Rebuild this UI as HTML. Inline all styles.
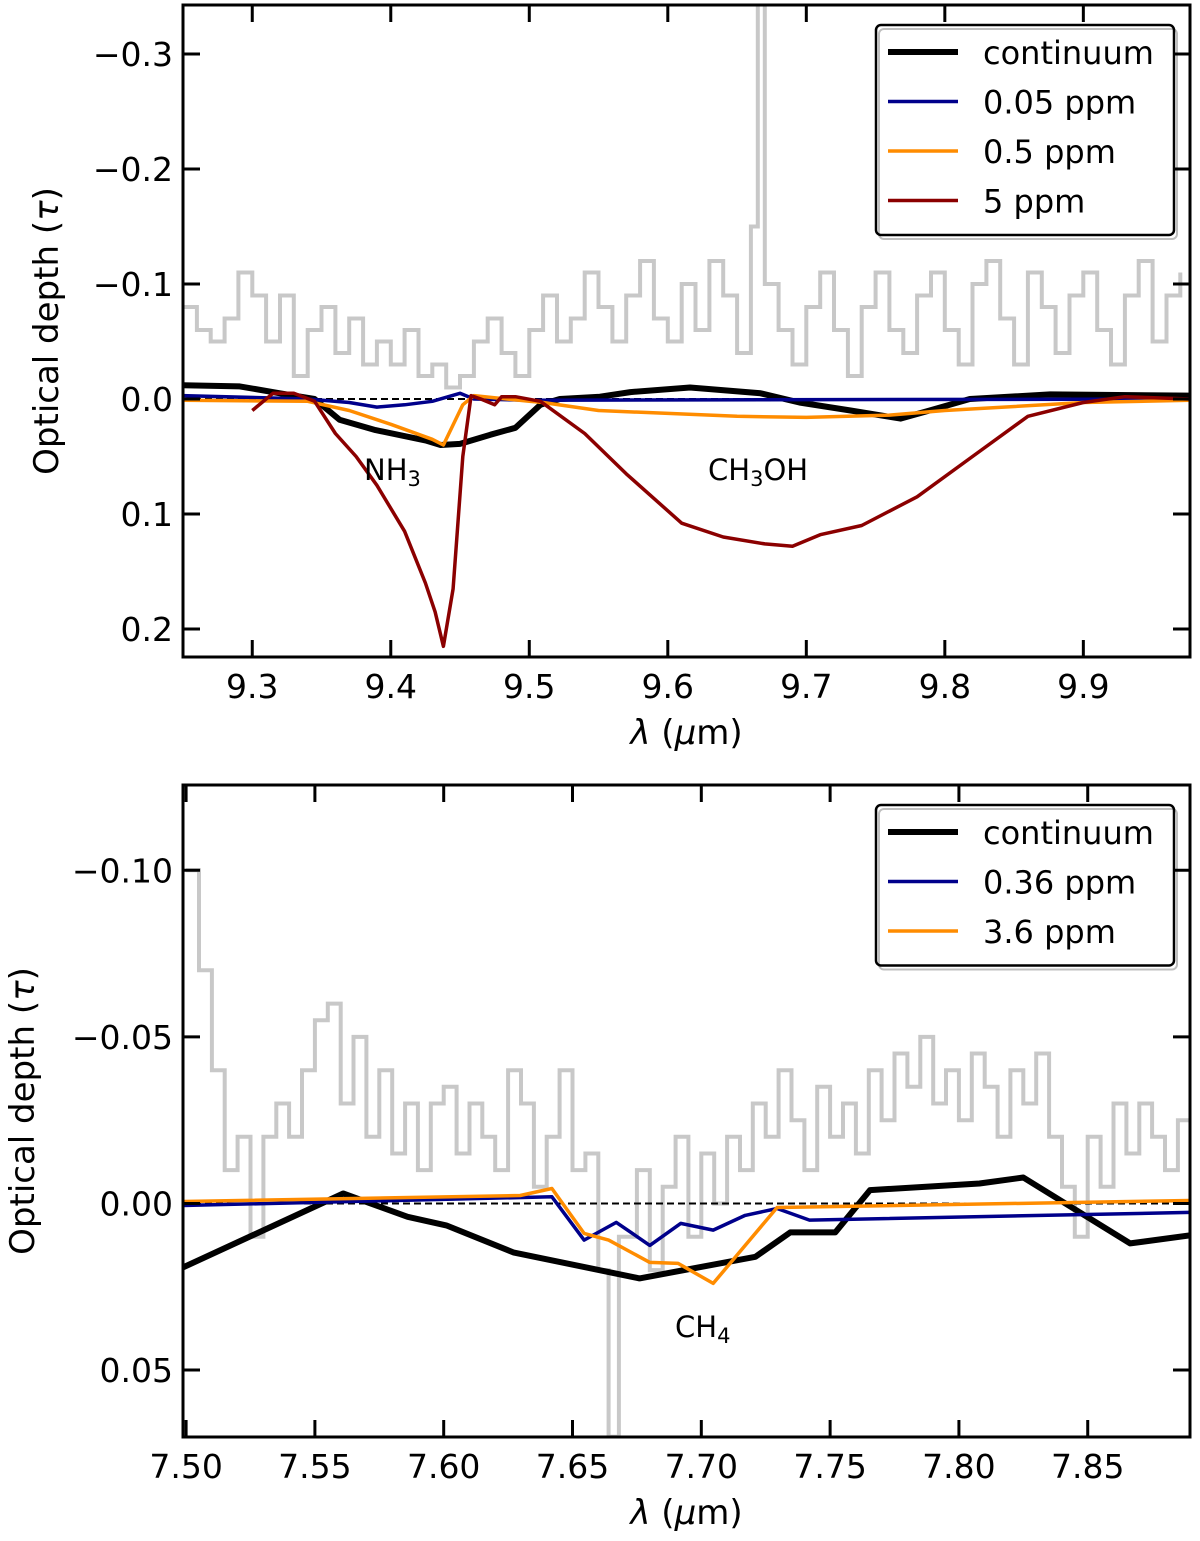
<!DOCTYPE html>
<html><head><meta charset="utf-8"><style>
body{margin:0;background:#fff}
svg text{font-family:"DejaVu Sans","Liberation Sans",sans-serif;fill:#000}
</style></head><body>
<svg id="fig" width="1200" height="1536" viewBox="0 0 1200 1536" xmlns="http://www.w3.org/2000/svg"></svg>
<script>
// ---- Top panel data ----
const topGrayX=[9.25,9.26,9.27,9.28,9.29,9.30,9.31,9.32,9.33,9.34,9.35,9.36,9.37,9.38,9.39,9.40,9.41,9.42,9.43,9.44,9.45,9.46,9.47,9.48,9.49,9.50,9.51,9.52,9.53,9.54,9.55,9.56,9.57,9.58,9.59,9.60,9.61,9.62,9.63,9.64,9.65,9.66,9.665,9.67,9.68,9.69,9.70,9.71,9.72,9.73,9.74,9.75,9.76,9.77,9.78,9.79,9.80,9.81,9.82,9.83,9.84,9.85,9.86,9.87,9.88,9.89,9.90,9.91,9.92,9.93,9.94,9.95,9.96,9.97];
const topGrayY=[-0.08,-0.06,-0.05,-0.07,-0.11,-0.09,-0.05,-0.09,-0.02,-0.06,-0.08,-0.04,-0.07,-0.03,-0.05,-0.03,-0.06,-0.02,-0.03,-0.01,-0.02,-0.05,-0.07,-0.04,-0.02,-0.06,-0.09,-0.05,-0.07,-0.11,-0.08,-0.05,-0.09,-0.12,-0.07,-0.05,-0.10,-0.06,-0.12,-0.09,-0.04,-0.15,-0.40,-0.10,-0.06,-0.03,-0.08,-0.11,-0.06,-0.02,-0.08,-0.11,-0.06,-0.04,-0.09,-0.11,-0.06,-0.03,-0.10,-0.12,-0.07,-0.03,-0.11,-0.08,-0.04,-0.09,-0.11,-0.06,-0.03,-0.09,-0.12,-0.05,-0.09,-0.11];
const topContX=[9.25,9.291,9.32,9.345,9.363,9.389,9.425,9.436,9.45,9.472,9.49,9.508,9.522,9.551,9.573,9.616,9.667,9.695,9.732,9.768,9.789,9.818,9.876,9.977];
const topContY=[-0.012,-0.011,-0.005,0,0.018,0.027,0.036,0.04,0.039,0.031,0.025,0.005,0,-0.002,-0.006,-0.01,-0.005,0.003,0.01,0.017,0.01,0,-0.004,-0.003];
const topBlueX=[9.25,9.34,9.37,9.39,9.41,9.43,9.45,9.46,9.5,9.977];
const topBlueY=[-0.003,0,0.003,0.007,0.005,0.002,-0.005,0,0.001,0];
const topOrX=[9.25,9.34,9.37,9.40,9.43,9.438,9.452,9.46,9.5,9.51,9.55,9.65,9.7,9.76,9.8,9.9,9.977];
const topOrY=[0.001,0.002,0.01,0.022,0.035,0.04,0.005,-0.003,0.002,0.003,0.01,0.015,0.016,0.014,0.01,0.003,0.001];
const topRedX=[9.30,9.315,9.33,9.345,9.36,9.375,9.39,9.41,9.425,9.432,9.438,9.445,9.452,9.458,9.465,9.475,9.48,9.49,9.508,9.54,9.57,9.61,9.64,9.67,9.69,9.71,9.74,9.78,9.82,9.86,9.9,9.93,9.977];
const topRedY=[0.01,-0.005,-0.005,0.002,0.03,0.05,0.075,0.115,0.16,0.185,0.215,0.165,0.05,-0.003,0,0.005,-0.002,-0.002,0.002,0.03,0.065,0.108,0.12,0.126,0.128,0.118,0.11,0.085,0.05,0.015,0.003,-0.002,0];
const topXTicks=[9.3,9.4,9.5,9.6,9.7,9.8,9.9];
const topXTickLabels=["9.3","9.4","9.5","9.6","9.7","9.8","9.9"];
const topYTicks=[-0.3,-0.2,-0.1,0,0.1,0.2];
const topYTickLabels=["\u22120.3","\u22120.2","\u22120.1","0.0","0.1","0.2"];
// ---- Bottom panel data ----
const botGrayX=[7.50,7.505,7.51,7.515,7.52,7.525,7.53,7.535,7.54,7.545,7.55,7.555,7.56,7.565,7.57,7.575,7.58,7.585,7.59,7.595,7.60,7.605,7.61,7.615,7.62,7.625,7.63,7.635,7.64,7.645,7.65,7.655,7.66,7.664,7.668,7.675,7.68,7.685,7.69,7.695,7.70,7.705,7.71,7.715,7.72,7.725,7.73,7.735,7.74,7.745,7.75,7.755,7.76,7.765,7.77,7.775,7.78,7.785,7.79,7.795,7.80,7.805,7.81,7.815,7.82,7.825,7.83,7.835,7.84,7.845,7.85,7.855,7.86,7.865,7.87,7.875,7.88,7.885,7.89];
const botGrayY=[-0.1,-0.07,-0.04,-0.01,-0.02,0.01,-0.02,-0.03,-0.02,-0.04,-0.055,-0.06,-0.03,-0.05,-0.02,-0.04,-0.015,-0.03,-0.01,-0.03,-0.035,-0.015,-0.03,-0.02,-0.01,-0.04,-0.03,-0.005,-0.02,-0.04,-0.01,-0.015,0.02,0.07,0.01,-0.01,0.02,-0.005,-0.02,0.01,-0.015,0,-0.02,-0.01,-0.03,-0.02,-0.04,-0.025,-0.01,-0.035,-0.02,-0.03,-0.015,-0.04,-0.025,-0.045,-0.035,-0.05,-0.03,-0.04,-0.025,-0.045,-0.035,-0.02,-0.04,-0.03,-0.045,-0.02,-0.005,0.01,-0.02,-0.005,-0.03,-0.015,-0.03,-0.02,-0.01,-0.025,-0.02];
const botContX=[7.4988,7.561,7.586,7.601,7.627,7.676,7.721,7.7345,7.752,7.7655,7.808,7.825,7.8665,7.8897];
const botContY=[0.0192,-0.003,0.004,0.0066,0.0147,0.0225,0.016,0.0087,0.0087,-0.004,-0.006,-0.0078,0.012,0.0096];
const botBlueX=[7.4988,7.642,7.6545,7.667,7.68,7.692,7.7046,7.717,7.7294,7.742,7.8897];
const botBlueY=[0.0006,-0.002,0.011,0.0057,0.0126,0.006,0.008,0.0036,0.0015,0.005,0.0027];
const botOrX=[7.4988,7.6297,7.642,7.6545,7.664,7.68,7.691,7.7046,7.7294,7.8897];
const botOrY=[-0.0006,-0.0024,-0.0045,0.009,0.011,0.0177,0.018,0.024,0.0012,-0.0009];
const botXTicks=[7.50,7.55,7.60,7.65,7.70,7.75,7.80,7.85];
const botXTickLabels=["7.50","7.55","7.60","7.65","7.70","7.75","7.80","7.85"];
const botYTicks=[-0.10,-0.05,0,0.05];
const botYTickLabels=["\u22120.10","\u22120.05","0.00","0.05"];

const NS="http://www.w3.org/2000/svg";
const svg=document.getElementById('fig');
function mk(tag,attrs,parent){const e=document.createElementNS(NS,tag);for(const k in attrs)e.setAttribute(k,attrs[k]);(parent||svg).appendChild(e);return e;}

function panel(cfg){
  const g=mk('g',{});
  
  
  const L=cfg.L,R=cfg.R,T=cfg.T,B=cfg.B;
  const sx=v=>L+(v-cfg.x0)/(cfg.x1-cfg.x0)*(R-L);
  const sy=v=>T+(v-cfg.y0)/(cfg.y1-cfg.y0)*(B-T);
  const clipId='clip'+cfg.name;
  const cp=mk('clipPath',{id:clipId},g);mk('rect',{x:L,y:T,width:R-L,height:B-T},cp);
  const plot=mk('g',{'clip-path':'url(#'+clipId+')'},g);
  let d='';
  cfg.gx.forEach((x,i)=>{const X=sx(x),Y=sy(cfg.gy[i]);d+=(i?'H'+X.toFixed(1)+'V'+Y.toFixed(1):'M'+X.toFixed(1)+' '+Y.toFixed(1));});
  const gp=mk('path',{d:d,fill:'none',stroke:'#c8c8c8','stroke-width':4},plot);
  
  
  const zl=mk('line',{x1:L,x2:R,y1:sy(0),y2:sy(0),stroke:'#000','stroke-width':2,'stroke-dasharray':'7,4'},plot);
  
  
  cfg.series.forEach(s=>{
    const pts=s.x.map((x,i)=>sx(x).toFixed(1)+','+sy(s.y[i]).toFixed(1)).join(' ');
    const pl=mk('polyline',{points:pts,fill:'none',stroke:s.c,'stroke-width':s.w,'stroke-linejoin':'round'},plot);
    
    
  });
  const fr=mk('rect',{x:L,y:T,width:R-L,height:B-T,fill:'none',stroke:'#000','stroke-width':3},g);
  
  
  cfg.xt.forEach((v,i)=>{
    const X=sx(v);
    mk('line',{x1:X,x2:X,y1:B,y2:B-17,stroke:'#000','stroke-width':3},g);
    mk('line',{x1:X,x2:X,y1:T,y2:T+17,stroke:'#000','stroke-width':3},g);
    const t=mk('text',{x:X,y:B+41,'font-size':33,'text-anchor':'middle'},g);
    t.textContent=cfg.xtl[i];
    
    
  });
  cfg.yt.forEach((v,i)=>{
    const Y=sy(v);
    mk('line',{x1:L,x2:L+17,y1:Y,y2:Y,stroke:'#000','stroke-width':3},g);
    mk('line',{x1:R,x2:R-17,y1:Y,y2:Y,stroke:'#000','stroke-width':3},g);
    const t=mk('text',{x:L-10,y:Y+12,'font-size':33,'text-anchor':'end'},g);
    t.textContent=cfg.ytl[i];
    
    
  });
  const xt=mk('text',{x:(L+R)/2,y:B+87,'font-size':34,'text-anchor':'middle'},g);
  xt.innerHTML='<tspan font-style="italic">λ</tspan> (<tspan font-style="italic">μ</tspan>m)';
  
  
  const yt=mk('text',{x:0,y:0,'font-size':34,'text-anchor':'middle',transform:'translate('+cfg.ytx+','+((T+B)/2)+') rotate(-90)'},g);
  yt.innerHTML='Optical depth (<tspan font-style="italic">τ</tspan>)';
  
  
  cfg.ann.forEach(a=>{
    const t=mk('text',{x:a.x,y:a.y,'font-size':29},g);
    t.innerHTML=a.html;
    
    
  });
  const lg=mk('g',{},g);
  
  
  mk('rect',{x:876,y:cfg.legT,width:298,height:cfg.leg.length*49.5+12,rx:5,fill:'#fff',stroke:'#000','stroke-width':2.5},lg);
  mk('rect',{x:879,y:cfg.legT+4,width:298,height:cfg.leg.length*49.5+12,rx:5,fill:'none',stroke:'rgba(0,0,0,0.25)','stroke-width':2},lg);
  cfg.leg.forEach((e,i)=>{
    const Y=cfg.legT+27+i*49.5;
    const eg=mk('g',{},lg);
    
    
    mk('line',{x1:888,x2:958,y1:Y,y2:Y,stroke:e.c,'stroke-width':e.w},eg);
    const t=mk('text',{x:983,y:Y+12,'font-size':32},eg);t.textContent=e.t;
  });
}
panel({name:'top-panel',L:183,R:1190,T:5,B:657,x0:9.25,x1:9.977,y0:-0.3426,y1:0.2243,
  gx:topGrayX,gy:topGrayY,ytx:58,
  series:[{name:'continuum-line',x:topContX,y:topContY,c:'#000',w:6},
          {name:'line-0.05ppm',x:topBlueX,y:topBlueY,c:'#00008b',w:3.5},
          {name:'line-0.5ppm',x:topOrX,y:topOrY,c:'#ff8c00',w:3.5},
          {name:'line-5ppm',x:topRedX,y:topRedY,c:'#8b0000',w:3.5}],
  xt:topXTicks,xtl:topXTickLabels,yt:topYTicks,ytl:topYTickLabels,
  ann:[{name:'nh3-label',x:364,y:480,html:'NH<tspan font-size="21" dy="6">3</tspan>'},
       {name:'ch3oh-label',x:708,y:480,html:'CH<tspan font-size="21" dy="6">3</tspan><tspan dy="-6">OH</tspan>'}],
  legT:25,leg:[{t:'continuum',c:'#000',w:6},{t:'0.05 ppm',c:'#00008b',w:3.5},{t:'0.5 ppm',c:'#ff8c00',w:3.5},{t:'5 ppm',c:'#8b0000',w:3.5}]});
panel({name:'bottom-panel',L:183,R:1190,T:785,B:1437,x0:7.4988,x1:7.8897,y0:-0.1256,y1:0.0701,
  gx:botGrayX,gy:botGrayY,ytx:34,
  series:[{name:'continuum-line',x:botContX,y:botContY,c:'#000',w:6},
          {name:'line-0.36ppm',x:botBlueX,y:botBlueY,c:'#00008b',w:3.5},
          {name:'line-3.6ppm',x:botOrX,y:botOrY,c:'#ff8c00',w:3.5}],
  xt:botXTicks,xtl:botXTickLabels,yt:botYTicks,ytl:botYTickLabels,
  ann:[{name:'ch4-label',x:675,y:1337,html:'CH<tspan font-size="21" dy="6">4</tspan>'}],
  legT:805,leg:[{t:'continuum',c:'#000',w:6},{t:'0.36 ppm',c:'#00008b',w:3.5},{t:'3.6 ppm',c:'#ff8c00',w:3.5}]});
</script>
</body></html>
